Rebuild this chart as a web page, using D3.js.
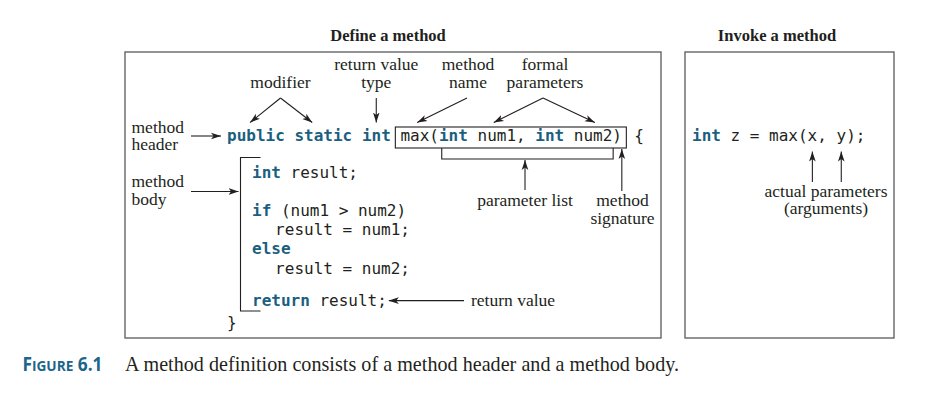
<!DOCTYPE html>
<html>
<head>
<meta charset="utf-8">
<script src="https://cdn.jsdelivr.net/npm/d3@7"></script>
<style>
  html, body { margin: 0; padding: 0; background: #fff; }
  svg { display: block; }
  .code { font-family: "DejaVu Sans Mono", monospace; font-size: 16px; fill: #231f20; white-space: pre; }
  .kw { font-weight: bold; fill: #1b5f80; }
  .lbl { font-family: "Liberation Serif", "Times New Roman", serif; font-size: 17.5px; fill: #231f20; }
  .ttl { font-family: "Liberation Serif", "Times New Roman", serif; font-size: 16.5px; font-weight: bold; fill: #231f20; }
</style>
</head>
<body>
<script>
// ---- content ----
const titles = ["Define a method", "Invoke a method"];

// tokens: [text, isKeyword]
const headerTokens = [["public", 1], [" "], ["static", 1], [" "], ["int", 1], [" max("], ["int", 1],
                      [" num1, "], ["int", 1], [" num2)"]];
const openBrace = "{";
const bodyLines = [
    [["int", 1], [" result;"]],
    [["if", 1], [" (num1 > num2)"]],
    [["result = num1;"]],
    [["else", 1]],
    [["result = num2;"]],
    [["return", 1], [" result;"]]
];
const bodyRows   = [0, 2, 3, 4, 5, 6.7];     // line slots (blank lines in between)
const bodyIndent = [0, 0, 2.4, 0, 2.4, 0];   // in character columns
const callTokens = [["int", 1], [" z = max(x, y);"]];

const headerLabels = [
    { lines: ["method", "header"] },
    { lines: ["method", "body"] }
];
const topLabels = [
    { lines: ["modifier"] },
    { lines: ["return value", "type"] },
    { lines: ["method", "name"] },
    { lines: ["formal", "parameters"] }
];
const bottomLabels = [
    { lines: ["parameter list"] },
    { lines: ["method", "signature"] }
];
const returnLabel = "return value";
const argLabel = ["actual parameters", "(arguments)"];
const captionTag = ["F", "IGURE", " 6.1"];
const captionText = "A method definition consists of a method header and a method body.";

// ---- layout ----
const W = 947, H = 412;
const CW = 9.63;                         // monospace advance at 16px
const hx = d3.scaleLinear().domain([0, 1]).range([227, 227 + CW]);   // header columns
const bx = d3.scaleLinear().domain([0, 1]).range([252, 252 + CW]);   // body columns
const cx = d3.scaleLinear().domain([0, 1]).range([692, 692 + CW]);   // call columns
const by = d3.scaleLinear().domain([0, 1]).range([177.5, 196.7]);    // body rows
const headerY = 141;
const lh = 17.5;                          // label line height

const svg = d3.select("body").append("svg").attr("width", W).attr("height", H);

svg.append("defs").append("marker")
    .attr("id", "arr")
    .attr("viewBox", "0 -5 10 10")
    .attr("refX", 10).attr("refY", 0)
    .attr("markerWidth", 10).attr("markerHeight", 10)
    .attr("markerUnits", "userSpaceOnUse")
    .attr("orient", "auto")
  .append("path")
    .attr("d", "M0,-3.3L10,0L0,3.3L2.6,0Z")
    .attr("fill", "#231f20");

function codeText(g, tokens, x, y) {
    const t = g.append("text").attr("class", "code").attr("x", x).attr("y", y)
        .attr("xml:space", "preserve");
    t.selectAll("tspan").data(tokens).join("tspan")
        .attr("class", d => d[1] ? "kw" : null)
        .text(d => d[0]);
    return t;
}

function label(g, lines, x, y, anchor) {
    const t = g.append("text").attr("class", "lbl")
        .attr("text-anchor", anchor || "middle");
    t.selectAll("tspan").data(lines).join("tspan")
        .attr("x", x).attr("y", (d, i) => y + i * lh)
        .text(d => d);
}

function arrow(g, x1, y1, x2, y2) {
    g.append("line")
        .attr("x1", x1).attr("y1", y1).attr("x2", x2).attr("y2", y2)
        .attr("stroke", "#231f20").attr("stroke-width", 1.1)
        .attr("marker-end", "url(#arr)");
}

function path(g, pts) {
    g.append("path")
        .attr("d", d3.line()(pts))
        .attr("fill", "none").attr("stroke", "#231f20").attr("stroke-width", 1.1);
}

// ---- panels ----
const panels = [
    { x: 125, y: 52, w: 536, h: 286 },
    { x: 685, y: 52, w: 209, h: 286 }
];
svg.selectAll("rect.panel").data(panels).join("rect")
    .attr("class", "panel")
    .attr("x", d => d.x).attr("y", d => d.y)
    .attr("width", d => d.w).attr("height", d => d.h)
    .attr("fill", "none").attr("stroke", "#58595b").attr("stroke-width", 1.3);

svg.selectAll("text.ttl").data(titles).join("text")
    .attr("class", "ttl")
    .attr("text-anchor", "middle")
    .attr("x", (d, i) => i === 0 ? 388 : 777)
    .attr("y", 41)
    .text(d => d);

// ---- define a method ----
const g = svg.append("g");
codeText(g, headerTokens, hx(0), headerY);
g.append("text").attr("class", "code").attr("x", hx(42.3)).attr("y", headerY).text(openBrace);

// box round the method signature (cols 18..41)
g.append("rect")
    .attr("x", hx(18) - 5).attr("y", headerY - 14)
    .attr("width", hx(41) - hx(18) + 9.5).attr("height", 21)
    .attr("fill", "none").attr("stroke", "#231f20").attr("stroke-width", 1.1);

// parameter list bracket (cols 22..40)
const sigBottom = headerY + 7;
path(g, [[hx(22.3), sigBottom], [hx(22.3), sigBottom + 11], [hx(40.1), sigBottom + 11], [hx(40.1), sigBottom]]);

bodyLines.forEach((tokens, i) => codeText(g, tokens, bx(bodyIndent[i]), by(bodyRows[i])));
g.append("text").attr("class", "code").attr("x", hx(0)).attr("y", by(7.84)).text("}");

// body bracket
const brX = 240.5;
path(g, [[brX + 20, by(-1.04)], [brX, by(-1.04)], [brX, by(6.95)], [brX + 20, by(6.95)]]);

// left labels
label(g, headerLabels[0].lines, 131.5, 132.5, "start");
label(g, headerLabels[1].lines, 131.5, 187, "start");
arrow(g, 191, 136, 221, 136);
arrow(g, 191, 191.5, 238.5, 191.5);

// top labels
const topY = 70, arrTop = 98, arrEnd = 122.5;
label(g, topLabels[0].lines, 280.5, topY + lh);
arrow(g, 280.5, arrTop, hx(2.4), arrEnd);
arrow(g, 280.5, arrTop, hx(8.85), arrEnd);

label(g, topLabels[1].lines, hx(15.5), topY);
arrow(g, hx(15.5), arrTop, hx(15.5), arrEnd);

label(g, topLabels[2].lines, 468, topY);
arrow(g, 467, arrTop, hx(19.75), arrEnd);

label(g, topLabels[3].lines, 545, topY);
arrow(g, 543, arrTop, hx(27.7), arrEnd);
arrow(g, 543, arrTop, hx(38.2), arrEnd);

// bottom labels
label(g, bottomLabels[0].lines, 525, 206);
arrow(g, 525, 190, 525, sigBottom + 12);
label(g, bottomLabels[1].lines, 622.5, 206);
arrow(g, hx(41.0), 191, hx(41.0), sigBottom + 1);

// return value
const retY = by(6.7) - 5.5;
arrow(g, 464, retY, bx(14) + 2, retY);
label(g, [returnLabel], 471, by(6.7), "start");

// ---- invoke a method ----
const g2 = svg.append("g");
codeText(g2, callTokens, cx(0), headerY);
arrow(g2, cx(12.5), 182, cx(12.5), 151.5);
arrow(g2, cx(15.5), 182, cx(15.5), 151.5);
label(g2, argLabel, 826, 196.5);

// ---- caption ----
const cap = svg.append("text")
    .attr("x", 22.5).attr("y", 371)
    .attr("font-family", "'Open Sans', 'DejaVu Sans', sans-serif")
    .attr("font-weight", "bold")
    .attr("fill", "#1b6689")
    .attr("textLength", 80).attr("lengthAdjust", "spacingAndGlyphs")
    .attr("xml:space", "preserve");
cap.selectAll("tspan").data(captionTag).join("tspan")
    .attr("font-size", (d, i) => i === 1 ? 15 : 19)
    .text(d => d);

svg.append("text")
    .attr("x", 125).attr("y", 371)
    .attr("font-family", "'Liberation Serif', 'Times New Roman', serif")
    .attr("font-size", 20.1)
    .attr("fill", "#231f20")
    .attr("textLength", 554).attr("lengthAdjust", "spacing")
    .text(captionText);
</script>
</body>
</html>
